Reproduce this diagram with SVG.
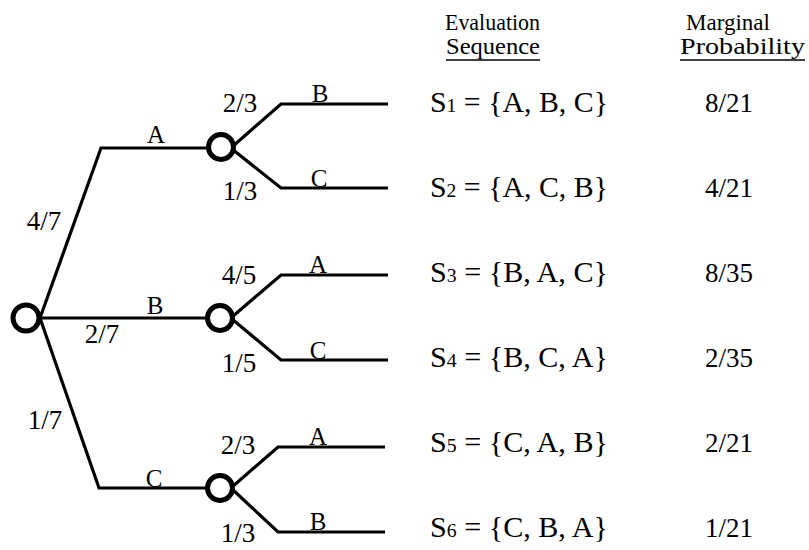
<svg xmlns="http://www.w3.org/2000/svg" width="809" height="550" viewBox="0 0 809 550">
<style>
text{font-family:"Liberation Serif","Times New Roman",serif;fill:#000}
.lbl{font-size:25px}
.fr{font-size:27px}
.seq{font-size:29px}
.pr{font-size:27px}
.hd{font-size:23px}
.sub{font-size:19px}
.e{fill:none;stroke:#000;stroke-width:3.2;stroke-linejoin:miter}
.u{stroke:#000;stroke-width:1.6}
.n{fill:#fff;stroke:#000;stroke-width:5}
</style>
<rect width="809" height="550" fill="#fff"/>
<g id="connectors">
<polyline class="e" points="40,318 101,148 208,148"/>
<polyline class="e" points="40,318 207,318"/>
<polyline class="e" points="40,318 99,488 208,488"/>
<polyline class="e" points="232,147 281,104 388,104"/>
<polyline class="e" points="232,149 281,188 388,188"/>
<polyline class="e" points="232,317 281,275 388,275"/>
<polyline class="e" points="232,319 281,360 388,360"/>
<polyline class="e" points="232,487 278,447 385,447"/>
<polyline class="e" points="232,489 278,532 385,532"/>
</g>
<g id="root"><circle class="n" cx="26" cy="318" r="13"/></g>
<g id="nodeA"><circle class="n" cx="221" cy="147" r="12.5"/></g>
<g id="nodeB"><circle class="n" cx="220" cy="318" r="12.5"/></g>
<g id="nodeC"><circle class="n" cx="220" cy="488" r="12.5"/></g>
<g id="labels">
<text class="lbl" x="156" y="143" text-anchor="middle">A</text>
<text class="lbl" x="155" y="314" text-anchor="middle">B</text>
<text class="lbl" x="154" y="487" text-anchor="middle">C</text>
<text class="fr" x="44" y="230" text-anchor="middle">4/7</text>
<text class="fr" x="102" y="343" text-anchor="middle">2/7</text>
<text class="fr" x="45" y="429" text-anchor="middle">1/7</text>
<text class="fr" x="240" y="112" text-anchor="middle">2/3</text>
<text class="fr" x="240" y="200" text-anchor="middle">1/3</text>
<text class="fr" x="239" y="284" text-anchor="middle">4/5</text>
<text class="fr" x="239" y="372" text-anchor="middle">1/5</text>
<text class="fr" x="238" y="454" text-anchor="middle">2/3</text>
<text class="fr" x="238" y="542" text-anchor="middle">1/3</text>
<text class="lbl" x="320" y="102" text-anchor="middle">B</text>
<text class="lbl" x="319" y="187" text-anchor="middle">C</text>
<text class="lbl" x="318" y="273" text-anchor="middle">A</text>
<text class="lbl" x="318" y="359" text-anchor="middle">C</text>
<text class="lbl" x="318" y="445" text-anchor="middle">A</text>
<text class="lbl" x="318" y="530" text-anchor="middle">B</text>
</g>
<g id="header">
<text class="hd" x="445" y="30" textLength="95" lengthAdjust="spacingAndGlyphs">Evaluation</text>
<text class="hd" x="446" y="54" textLength="94" lengthAdjust="spacingAndGlyphs">Sequence</text>
<line class="u" x1="446" y1="60" x2="540" y2="60"/>
<text class="hd" x="686" y="30" textLength="84" lengthAdjust="spacingAndGlyphs">Marginal</text>
<text class="hd" x="680" y="54" textLength="125" lengthAdjust="spacingAndGlyphs">Probability</text>
<line class="u" x1="680" y1="60" x2="805" y2="60"/>
</g>
<g id="sequences">
<text class="seq" x="430" y="112" textLength="178" lengthAdjust="spacingAndGlyphs">S<tspan class="sub">1</tspan> = {A, B, C}</text>
<text class="seq" x="430" y="197" textLength="178" lengthAdjust="spacingAndGlyphs">S<tspan class="sub">2</tspan> = {A, C, B}</text>
<text class="seq" x="430" y="282" textLength="178" lengthAdjust="spacingAndGlyphs">S<tspan class="sub">3</tspan> = {B, A, C}</text>
<text class="seq" x="430" y="367" textLength="178" lengthAdjust="spacingAndGlyphs">S<tspan class="sub">4</tspan> = {B, C, A}</text>
<text class="seq" x="430" y="452" textLength="178" lengthAdjust="spacingAndGlyphs">S<tspan class="sub">5</tspan> = {C, A, B}</text>
<text class="seq" x="430" y="537" textLength="178" lengthAdjust="spacingAndGlyphs">S<tspan class="sub">6</tspan> = {C, B, A}</text>
</g>
<g id="probabilities">
<text class="pr" x="729" y="112" text-anchor="middle">8/21</text>
<text class="pr" x="729" y="197" text-anchor="middle">4/21</text>
<text class="pr" x="729" y="282" text-anchor="middle">8/35</text>
<text class="pr" x="729" y="367" text-anchor="middle">2/35</text>
<text class="pr" x="729" y="452" text-anchor="middle">2/21</text>
<text class="pr" x="729" y="537" text-anchor="middle">1/21</text>
</g>
</svg>
